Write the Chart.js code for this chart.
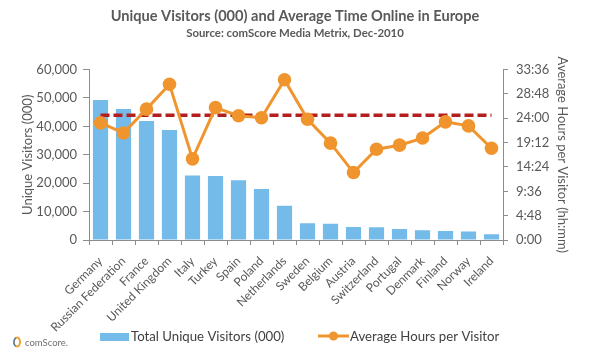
<!DOCTYPE html>
<html>
<head>
<meta charset="utf-8">
<script src="https://cdn.jsdelivr.net/npm/chart.js@4"></script>
<style>
  html, body { margin: 0; padding: 0; background: #ffffff; }
  #wrap { width: 595px; height: 354px; position: relative; }
</style>
</head>
<body>
<div id="wrap"><canvas id="c" width="595" height="354"></canvas></div>
<script>
// ---- data ----
const categories = ['Germany','Russian Federation','France','United Kingdom','Italy','Turkey','Spain','Poland','Netherlands','Sweden','Belgium','Austria','Switzerland','Portugal','Denmark','Finland','Norway','Ireland'];
const visitors = [49300,46100,41900,38700,22700,22500,21000,18000,12100,5900,5700,4600,4500,3900,3400,3200,2950,2000];
const avgHours = [23.1,21.1,25.8,30.7,16.0,26.1,24.5,24.1,31.6,23.8,19.1,13.3,17.9,18.7,20.1,23.3,22.5,18.1];
const europeAverageHours = 24.6;
const leftTickStep = 10000;
const rightTickStep = 4.8;   // 4:48
const rightMax = 33.6;       // 33:36

const titleText = 'Unique Visitors (000) and Average Time Online in Europe';
const subtitleText = 'Source: comScore Media Metrix, Dec-2010';
const seriesLabels = ['Total Unique Visitors (000)', 'Average Hours per Visitor'];

const BLUE = '#74BBEA', ORANGE = '#F0952E', RED = '#B51E1E', GREY = '#595959', AXIS = '#8C8C8C';
const FONT = 'Lato, "Open Sans", sans-serif';

function hm(v) {
  const m = Math.round(v * 60);
  return Math.floor(m / 60) + ':' + String(m % 60).padStart(2, '0');
}

// custom bottom legend + logo
const legendPlugin = {
  id: 'bottomLegend',
  afterDraw(chart) {
    const ctx = chart.ctx;
    ctx.save();
    const y = 337;
    ctx.font = '13.2px ' + FONT;
    ctx.textBaseline = 'middle';
    // bar item
    let x = 100;
    ctx.fillStyle = chart.data.datasets[0].backgroundColor;
    ctx.fillRect(x, y - 4, 29, 8);
    ctx.fillStyle = '#404040';
    ctx.fillText(chart.data.datasets[0].label, x + 31, y);
    // line item
    x = 318;
    const ds = chart.data.datasets[1];
    ctx.strokeStyle = ds.borderColor;
    ctx.lineWidth = 3;
    ctx.beginPath(); ctx.moveTo(x, y - 1); ctx.lineTo(x + 31, y - 1); ctx.stroke();
    ctx.fillStyle = ds.backgroundColor;
    ctx.beginPath(); ctx.arc(x + 15.5, y - 1, 4.5, 0, Math.PI * 2); ctx.fill();
    ctx.fillStyle = '#404040';
    ctx.fillText(ds.label, x + 32, y);
    // logo
    ctx.strokeStyle = '#F0A030';
    ctx.lineWidth = 2;
    ctx.beginPath(); ctx.ellipse(17, 342, 3, 4.5, 0, 0, Math.PI * 2); ctx.stroke();
    ctx.strokeStyle = '#3A7FC0';
    ctx.lineWidth = 1.2;
    ctx.beginPath(); ctx.ellipse(17, 342, 3, 4.5, 0, Math.PI * 0.6, Math.PI * 1.4); ctx.stroke();
    ctx.font = '9.5px ' + FONT;
    ctx.fillStyle = '#707070';
    ctx.fillText('comScore.', 25, 343);
    ctx.restore();
  }
};

new Chart(document.getElementById('c'), {
  data: {
    labels: categories,
    datasets: [
      {
        type: 'bar', label: seriesLabels[0], data: visitors, yAxisID: 'y',
        backgroundColor: BLUE, barPercentage: 0.66, categoryPercentage: 1.0, order: 3
      },
      {
        type: 'line', label: seriesLabels[1], data: avgHours, yAxisID: 'y1',
        borderColor: ORANGE, backgroundColor: ORANGE, borderWidth: 3,
        pointRadius: 6.8, pointBorderWidth: 0, pointBackgroundColor: ORANGE, tension: 0, order: 1
      },
      {
        type: 'line', label: 'Europe average', data: categories.map(() => europeAverageHours), yAxisID: 'y1',
        borderColor: RED, borderWidth: 3.5, borderDash: [9, 4], pointRadius: 0, order: 2
      }
    ]
  },
  options: {
    responsive: false,
    animation: false,
    events: [],
    layout: { padding: { left: 18, right: 23, top: 4, bottom: 0 } },
    plugins: {
      legend: { display: false },
      tooltip: { enabled: false },
      title: {
        display: true, text: titleText, color: GREY,
        font: { family: FONT, size: 14.6, weight: 'bold', lineHeight: 1.1 }, padding: { top: 4, bottom: 2 }
      },
      subtitle: {
        display: true, text: subtitleText, color: GREY,
        font: { family: FONT, size: 11.4, weight: 'bold', lineHeight: 1.1 }, padding: { top: 1, bottom: 30 }
      }
    },
    scales: {
      x: {
        grid: { display: true, drawOnChartArea: false, offset: true, tickLength: 5, color: AXIS },
        border: { display: true, color: AXIS },
        ticks: { color: GREY, font: { family: FONT, size: 12 }, minRotation: 45, maxRotation: 45, padding: 9, autoSkip: false },
        afterFit(scale) { scale.height = 114; }
      },
      y: {
        position: 'left', min: 0, max: 60000,
        ticks: { stepSize: leftTickStep, color: GREY, font: { family: FONT, size: 13 }, padding: 6,
          callback: v => v.toLocaleString('en-US') },
        grid: { drawOnChartArea: false, tickLength: 6, color: AXIS },
        border: { display: true, color: AXIS },
        title: { display: true, text: 'Unique Visitors (000)', color: GREY, font: { family: FONT, size: 13 }, padding: 2 },
        afterFit(scale) { scale.width = 71; }
      },
      y1: {
        position: 'right', min: 0, max: rightMax,
        ticks: { stepSize: rightTickStep, color: GREY, font: { family: FONT, size: 13 }, padding: 8,
          callback: v => hm(v) },
        grid: { drawOnChartArea: false, tickLength: 5, color: AXIS },
        border: { display: true, color: AXIS },
        title: { display: true, text: 'Average Hours per Visitor (hh:mm)', color: GREY, font: { family: FONT, size: 13 }, padding: 2 },
        afterFit(scale) { scale.width = 69; }
      }
    }
  },
  plugins: [legendPlugin]
});
</script>
</body>
</html>
